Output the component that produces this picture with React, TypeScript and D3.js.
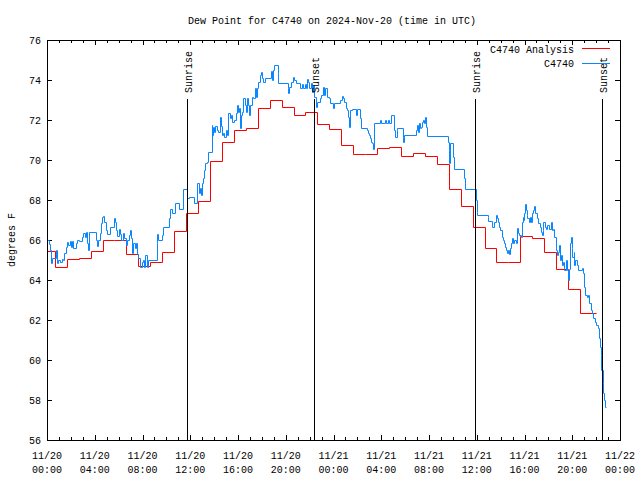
import React from 'react';
import * as d3 from 'd3';

const titleText = 'Dew Point for C4740 on 2024-Nov-20 (time in UTC)';
const yAxisLabel = 'degrees F';
const xTickHours = [0, 4, 8, 12, 16, 20, 24, 28, 32, 36, 40, 44, 48];
const xTickDates = ['11/20', '11/20', '11/20', '11/20', '11/20', '11/20', '11/21', '11/21', '11/21', '11/21', '11/21', '11/21', '11/22'];
const xTickTimes = ['00:00', '04:00', '08:00', '12:00', '16:00', '20:00', '00:00', '04:00', '08:00', '12:00', '16:00', '20:00', '00:00'];
const yTicks = [56, 58, 60, 62, 64, 66, 68, 70, 72, 74, 76];
const eventLabels = ['Sunrise', 'Sunset', 'Sunrise', 'Sunset'];
const eventHours = [11.75, 22.38, 35.87, 46.51];
const seriesNames = ['C4740 Analysis', 'C4740'];
const seriesColors = ['#ff0000', '#0a86ff'];

// hourly analysis values (hour 0 .. 45)
const analysisValues = [
  65.43, 64.65, 65.03, 65.08, 65.43, 65.98, 65.98, 65.28, 64.68, 64.88,
  65.40, 66.43, 67.33, 67.95, 69.93, 70.88, 71.48, 71.58, 72.62, 73.00,
  72.67, 72.23, 72.42, 71.78, 71.53, 70.73, 70.28, 70.28, 70.58, 70.63,
  70.18, 70.33, 70.18, 69.78, 68.57, 67.72, 66.67, 65.58, 64.90, 64.90,
  66.18, 66.08, 65.40, 64.53, 63.53, 62.33,
];

// station observations: hours since 11/20 00:00 and values
const stationHours = [
  0.00, 0.20, 0.25, 0.34, 0.39, 0.75, 0.81, 0.95, 1.09, 1.23, 1.37, 1.45, 1.56, 1.65, 1.79, 1.93, 2.01, 2.12, 2.21, 2.43,
  2.54, 2.68, 2.90, 3.04, 3.18, 3.27, 3.38, 3.46, 3.55, 4.10, 4.22, 4.30, 4.44, 4.52, 4.63, 4.72, 4.80, 4.91, 5.00, 5.28,
  5.64, 5.72, 5.81, 5.89, 6.00, 6.11, 6.23, 6.34, 6.45, 6.62, 6.73, 6.84, 6.95, 7.04, 7.12, 7.23, 7.34, 7.45, 7.51, 7.65,
  7.79, 7.93, 8.07, 8.15, 8.24, 8.35, 8.49, 9.18, 9.24, 9.32, 9.60, 9.69, 10.22, 10.30, 10.44, 10.72, 11.08, 11.42, 11.75, 11.86,
  12.31, 12.59, 12.70, 12.81, 12.93, 13.01, 13.09, 13.18, 13.26, 13.37, 13.51, 13.79, 13.85, 13.93, 14.02, 14.10, 14.21, 14.35, 14.49, 14.58,
  14.68, 14.77, 14.85, 14.96, 15.05, 15.19, 15.33, 15.41, 15.52, 15.69, 15.80, 15.89, 16.03, 16.11, 16.16, 16.25, 16.36, 16.44, 16.55, 16.64,
  16.72, 16.81, 16.92, 17.00, 17.14, 17.28, 17.42, 17.50, 17.61, 17.70, 17.84, 17.92, 18.01, 18.12, 18.26, 18.73, 18.82, 18.90, 19.04, 19.32,
  19.37, 20.15, 20.21, 20.30, 20.44, 20.58, 20.71, 20.85, 21.19, 21.33, 21.47, 21.61, 21.69, 21.75, 21.89, 21.97, 22.08, 22.22, 22.31, 22.39,
  22.50, 22.58, 22.86, 22.94, 23.14, 23.23, 23.31, 23.42, 23.62, 23.70, 23.93, 24.04, 24.54, 24.68, 24.82, 24.90, 25.01, 25.10, 25.24, 25.32,
  25.38, 25.52, 25.85, 25.94, 26.21, 26.27, 26.77, 26.86, 26.97, 27.05, 27.14, 27.25, 27.33, 27.39, 27.89, 27.95, 28.31, 28.37, 28.59, 28.65,
  28.81, 29.06, 29.15, 29.29, 29.34, 29.79, 29.84, 29.93, 30.90, 30.99, 31.07, 31.16, 31.24, 31.32, 31.43, 31.52, 31.60, 31.69, 31.74, 31.80,
  33.56, 33.64, 33.70, 33.75, 34.03, 34.11, 34.92, 35.01, 35.93, 35.99, 36.04, 36.91, 36.96, 37.30, 37.46, 37.58, 37.66, 37.74, 37.85, 37.94,
  38.08, 38.16, 38.28, 38.36, 38.44, 38.55, 38.64, 38.72, 38.78, 38.86, 38.94, 39.05, 39.14, 39.25, 39.34, 39.42, 39.56, 39.67, 39.75, 39.84,
  39.89, 39.98, 40.03, 40.12, 40.17, 40.25, 40.36, 40.45, 40.53, 40.64, 40.73, 40.81, 40.90, 41.01, 41.15, 41.29, 41.37, 41.46, 41.54, 41.57,
  41.71, 41.79, 41.90, 42.07, 42.19, 42.27, 42.41, 42.49, 42.60, 42.69, 42.77, 42.86, 42.97, 43.05, 43.16, 43.24, 43.33, 43.44, 43.52, 43.61,
  43.69, 43.80, 43.88, 43.97, 44.02, 44.11, 44.16, 44.25, 44.36, 44.44, 44.83, 44.92, 45.00, 45.09, 45.20, 45.34, 45.42, 45.53, 45.64, 45.76,
  45.89, 46.03, 46.18, 46.26, 46.31, 46.40, 46.45, 46.54, 46.59, 46.67, 46.76, 46.80,
];
const stationValues = [
  66.0, 65.8, 65.5, 64.83, 65.08, 65.5, 64.83, 65.0, 64.9, 65.05, 65.0, 65.33, 65.67, 65.92, 65.75, 65.97, 65.67, 65.97, 65.58, 65.83,
  66.0, 65.97, 66.17, 66.37, 66.17, 66.38, 65.83, 65.5, 66.38, 66.0, 65.7, 66.0, 66.33, 66.83, 67.17, 67.22, 66.92, 66.5, 66.3, 66.67,
  67.08, 66.92, 66.5, 66.2, 66.53, 66.3, 66.0, 66.33, 66.08, 65.75, 66.0, 66.25, 66.5, 66.08, 65.37, 65.83, 65.58, 65.83, 65.3, 65.08,
  64.67, 64.92, 65.0, 64.67, 65.25, 64.63, 65.0, 65.83, 66.3, 66.0, 66.25, 66.63, 67.08, 67.55, 67.33, 67.87, 67.53, 68.55, 68.12, 68.17,
  67.83, 68.83, 68.33, 68.58, 68.25, 68.83, 69.08, 69.5, 69.83, 69.88, 70.42, 71.75, 71.25, 71.67, 71.42, 71.72, 71.5, 71.42, 72.17, 71.72,
  71.25, 71.33, 71.17, 71.5, 71.25, 72.33, 72.08, 72.25, 71.92, 72.0, 72.33, 72.75, 72.42, 72.58, 71.58, 72.25, 72.42, 73.08, 72.75, 72.42,
  73.08, 72.75, 72.25, 72.75, 73.13, 73.08, 73.58, 73.17, 73.58, 73.92, 74.25, 74.42, 74.08, 73.92, 74.08, 74.45, 74.0, 74.5, 74.75, 74.33,
  73.83, 73.58, 73.33, 73.67, 73.92, 74.17, 74.0, 73.83, 73.58, 73.78, 73.58, 73.78, 73.58, 74.05, 73.92, 73.58, 73.83, 73.42, 73.75, 73.17,
  72.67, 72.92, 73.08, 73.25, 73.67, 73.25, 73.58, 73.17, 73.08, 72.83, 72.58, 72.83, 73.0, 73.2, 73.08, 72.92, 72.58, 72.5, 72.17, 71.67,
  72.5, 72.53, 72.25, 72.53, 72.08, 71.58, 71.5, 71.33, 71.25, 71.08, 70.92, 70.83, 70.55, 71.87, 72.0, 71.87, 72.0, 71.87, 72.0, 71.87,
  72.25, 71.5, 71.17, 71.5, 71.58, 71.17, 70.92, 71.25, 71.5, 71.75, 71.42, 71.83, 71.58, 71.67, 71.92, 72.0, 71.83, 72.17, 71.67, 71.2,
  70.92, 70.5, 69.83, 70.87, 70.17, 69.53, 69.08, 68.55, 68.0, 67.42, 67.25, 67.13, 66.95, 66.67, 66.92, 67.25, 67.08, 66.92, 66.67, 66.5,
  66.17, 66.0, 65.83, 65.67, 65.5, 65.33, 65.5, 65.28, 65.58, 65.83, 66.08, 65.83, 66.0, 65.83, 66.58, 66.33, 66.25, 66.17, 66.92, 67.17,
  67.0, 67.33, 67.8, 67.5, 67.25, 67.08, 66.92, 67.17, 66.92, 67.33, 67.5, 67.7, 67.33, 67.08, 66.83, 66.67, 66.42, 66.25, 66.5, 66.92,
  66.67, 66.53, 66.75, 66.53, 66.92, 66.5, 66.53, 66.17, 65.5, 65.25, 65.42, 65.75, 65.0, 65.25, 64.75, 64.92, 64.5, 65.0, 64.5, 64.0,
  64.53, 65.83, 66.17, 65.58, 65.17, 65.42, 64.75, 65.0, 64.75, 64.5, 64.58, 64.33, 63.67, 63.25, 63.17, 63.25, 62.83, 62.5, 62.33, 62.08,
  61.92, 61.75, 61.58, 61.08, 60.67, 60.25, 59.5, 58.83, 58.33, 58.0, 57.67, 57.67,
];

const FONT = "'Liberation Mono', 'DejaVu Sans Mono', monospace";

export default function App() {
  const W = 640;
  const H = 480;
  const left = 47;
  const right = 620;
  const top = 40;
  const bottom = 440;
  const x = d3.scaleLinear().domain([0, 48]).range([left, right]);
  const y = d3.scaleLinear().domain([56, 76]).range([bottom, top]);

  const stepLine = d3
    .line<[number, number]>()
    .x((d) => Math.round(x(d[0])) + 0.5)
    .y((d) => Math.round(y(d[1])) + 0.5)
    .curve(d3.curveStepAfter);

  const analysisPts: [number, number][] = analysisValues.map((v, k) => [Math.max(0, k - 0.35), v]);
  analysisPts.push([45.95, analysisValues[analysisValues.length - 1]]);
  const stationPts: [number, number][] = stationHours.map((h, i) => [h, stationValues[i]]);

  const minorHours = d3.range(0, 49).filter((h) => h % 4 !== 0);
  const majorLen = 5;
  const minorLen = 3;
  const px = (v: number) => Math.round(v) + 0.5;

  return (
    <svg width={W} height={H} style={{ position: 'absolute', left: 0, top: 0, background: '#fff' }} fontFamily={FONT}>
      <rect x={0} y={0} width={W} height={H} fill="#fff" />
      <text x={332} y={24} fontSize={10} textAnchor="middle" fill="#000">{titleText}</text>

      {/* ticks */}
      <g stroke="#000" strokeWidth={1} shapeRendering="crispEdges">
        {xTickHours.map((h) => (
          <g key={'xt' + h}>
            <line x1={px(x(h))} x2={px(x(h))} y1={bottom} y2={bottom - majorLen} />
            <line x1={px(x(h))} x2={px(x(h))} y1={top} y2={top + majorLen} />
          </g>
        ))}
        {minorHours.map((h) => (
          <g key={'xm' + h}>
            <line x1={px(x(h))} x2={px(x(h))} y1={bottom} y2={bottom - minorLen} />
            <line x1={px(x(h))} x2={px(x(h))} y1={top} y2={top + minorLen} />
          </g>
        ))}
        {yTicks.map((v) => (
          <g key={'yt' + v}>
            <line x1={left} x2={left + majorLen} y1={px(y(v))} y2={px(y(v))} />
            <line x1={right} x2={right - majorLen} y1={px(y(v))} y2={px(y(v))} />
          </g>
        ))}
      </g>

      {/* tick labels */}
      <g fontSize={10} fill="#000">
        {xTickHours.map((h, i) => (
          <g key={'xl' + h}>
            <text x={x(h)} y={459} textAnchor="middle">{xTickDates[i]}</text>
            <text x={x(h)} y={473} textAnchor="middle">{xTickTimes[i]}</text>
          </g>
        ))}
        {yTicks.map((v) => (
          <text key={'yl' + v} x={41} y={y(v) + 4} textAnchor="end">{v}</text>
        ))}
      </g>
      <text transform={`translate(15,${240}) rotate(-90)`} fontSize={10} textAnchor="middle" fill="#000">{yAxisLabel}</text>

      {/* series */}
      <path d={stepLine(analysisPts) || ''} fill="none" stroke={seriesColors[0]} strokeWidth={1} />
      <path d={stepLine(stationPts) || ''} fill="none" stroke={seriesColors[1]} strokeWidth={1} />

      {/* sunrise / sunset markers */}
      {eventHours.map((h, i) => (
        <g key={'ev' + i}>
          <line x1={px(x(h))} x2={px(x(h))} y1={99} y2={bottom} stroke="#000" strokeWidth={1} shapeRendering="crispEdges" />
          <text transform={`translate(${x(h) + 5},${93}) rotate(-90)`} fontSize={10} fill="#000">{eventLabels[i]}</text>
        </g>
      ))}

      {/* legend */}
      <g fontSize={10} fill="#000">
        <text x={574} y={53} textAnchor="end">{seriesNames[0]}</text>
        <line x1={582} x2={610} y1={48.5} y2={48.5} stroke={seriesColors[0]} strokeWidth={1} />
        <text x={574} y={67} textAnchor="end">{seriesNames[1]}</text>
        <line x1={582} x2={610} y1={63.5} y2={63.5} stroke={seriesColors[1]} strokeWidth={1} />
      </g>

      {/* border */}
      <rect x={left + 0.5} y={top + 0.5} width={right - left} height={bottom - top} fill="none" stroke="#000" strokeWidth={1} shapeRendering="crispEdges" />
    </svg>
  );
}
